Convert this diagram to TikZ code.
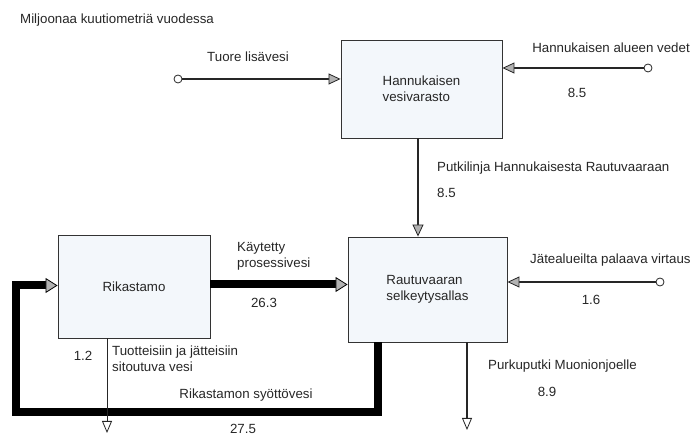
\documentclass[tikz,border=0pt]{standalone}
\usepackage{fontspec}
\setmainfont{Liberation Sans}
\usetikzlibrary{arrows.meta}
\definecolor{tankfill}{RGB}{243,247,251}
\tikzset{
  tank/.style={draw=black!80, line width=0.9pt, fill=tankfill, align=left},
  flow/.style={draw=black!85, line width=1.5pt},
  inflow/.style={flow, -{Triangle[length=12pt, width=11pt, fill=gray!60, line width=0.8pt]}},
  bigflow/.style={draw=black, line width=8pt, line join=miter,
    -{Triangle[length=12pt, width=15pt, fill=gray!60, line width=0.8pt]}},
  outflow/.style={flow, -{Triangle[open, length=12pt, width=10pt, fill=white, line width=0.8pt]}},
  src/.style={circle, draw=black!85, fill=white, line width=0.8pt, minimum size=8pt}
}
\begin{document}
\begin{tikzpicture}[x=1pt, y=-1pt, inner sep=0pt, text=black!85,
  font=\fontsize{13.3}{16.5}\selectfont]
  \useasboundingbox (0,0) rectangle (691,435);
  \node[tank, minimum width=161pt, minimum height=98pt] (hannu) at (421.5,89) {Hannukaisen\\vesivarasto};
  \node[tank, minimum width=152pt, minimum height=103pt] (rikas) at (134,286.5) {Rikastamo};
  \node[tank, minimum width=159pt, minimum height=105pt] (rautu) at (427.5,289.5) {Rautuvaaran\\selkeytysallas};

  \node[src] (tuores) at (178,79) {};
  \node[src] (alues) at (648,68) {};
  \node[src] (jates) at (660,282) {};
  \coordinate (putkix) at (418,0);
  \coordinate (fb) at (378,412);
  \coordinate (fbl) at (16,412);
  \coordinate (sitout) at (107,433);
  \coordinate (purkuout) at (467,430);

  \draw[inflow] (tuores) -- (tuores -| hannu.west);
  \draw[inflow] (alues) -- (alues -| hannu.east);
  \draw[inflow] (hannu.south -| putkix) -- (rautu.north -| putkix);
  \draw[inflow] (jates) -- (jates -| rautu.east);
  \draw[bigflow] ([yshift=2pt]rikas.east) -- ([yshift=2pt]rikas.east -| rautu.west);
  \draw[bigflow] (rautu.south -| fb) |- (fbl) |- ([yshift=1pt]rikas.west);
  \draw[outflow, line width=0.8pt] (rikas.south -| sitout) -- (sitout);
  \draw[outflow] (rautu.south -| purkuout) -- (purkuout);

  \node[anchor=west] (unit) at (20,20) {Miljoonaa kuutiometriä vuodessa};
  \node (tuore) at (248,57) {Tuore lisävesi};
  \node (alue) at (611,48) {Hannukaisen alueen vedet};
  \node (alueq) at (577,93) {8.5};
  \node[anchor=west] (putki) at (437,168) {Putkilinja Hannukaisesta Rautuvaaraan};
  \node[anchor=west] (putkiq) at (437,193) {8.5};
  \node[anchor=west, align=left] (kayt) at (237,256.5) {Käytetty\\prosessivesi};
  \node (kaytq) at (264,303) {26.3};
  \node[anchor=west] (jate) at (530,260) {Jätealueilta palaava virtaus};
  \node (jateq) at (591,300) {1.6};
  \node (sitq) at (83,356) {1.2};
  \node[anchor=west, align=left] (sit) at (112,358.5) {Tuotteisiin ja jätteisiin\\sitoutuva vesi};
  \node (syot) at (246,395) {Rikastamon syöttövesi};
  \node (syotq) at (243,429) {27.5};
  \node[anchor=west] (purku) at (488,366) {Purkuputki Muonionjoelle};
  \node (purkuq) at (547,392) {8.9};
\end{tikzpicture}
\end{document}
